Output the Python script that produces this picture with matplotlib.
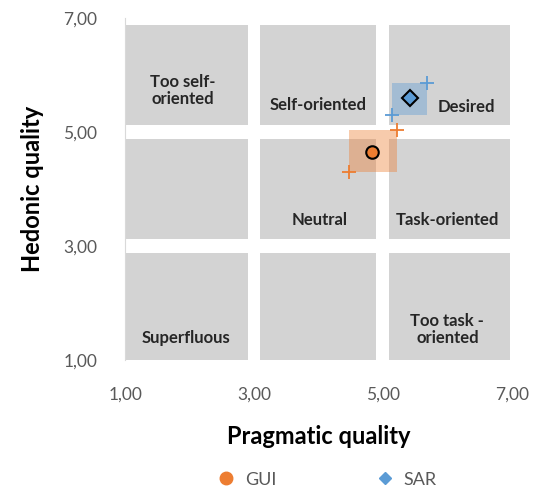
import matplotlib.pyplot as plt
from matplotlib.patches import Rectangle

# mean values and confidence bounds (pragmatic, hedonic)
GUI_MEAN = [4.83, 4.65]
GUI_LOW = [4.47, 4.30]
GUI_HIGH = [5.22, 5.04]
SAR_MEAN = [5.42, 5.60]
SAR_LOW = [5.14, 5.30]
SAR_HIGH = [5.68, 5.86]

REGION_LABELS = ["Too self-\noriented", "Self-oriented", "Desired",
                 "Neutral", "Task-oriented", "Superfluous", "Too task -\noriented"]
REGION_POS = [(1.9, 5.73), (4.0, 5.47), (6.3, 5.44), (4.02, 3.46),
              (6.0, 3.46), (1.95, 1.39), (6.0, 1.53)]

TICKS = [1, 3, 5, 7]
TICK_LABELS = ["1,00", "3,00", "5,00", "7,00"]

ORANGE = "#ED7D31"
BLUE = "#5B9BD5"

plt.rcParams["font.family"] = ["Lato", "DejaVu Sans"]

fig = plt.figure(figsize=(5.37, 4.93), dpi=100)
ax = fig.add_axes([0.233, 0.27, 0.72, 0.693])

# grey region tiles
edges = [(1.0, 2.9), (3.1, 4.9), (5.1, 6.97)]
yedges = [(1.0, 2.88), (3.12, 4.88), (5.12, 6.88)]
for x0, x1 in edges:
    for y0, y1 in yedges:
        ax.add_patch(Rectangle((x0, y0), x1 - x0, y1 - y0, color="#d3d3d3", lw=0, zorder=0))

for label, (x, y) in zip(REGION_LABELS, REGION_POS):
    ax.text(x, y, label, ha="center", va="center", fontsize=12,
            fontweight="bold", color="#262626", linespacing=1.1, zorder=1)

# confidence rectangles
for low, high, c in [(GUI_LOW, GUI_HIGH, ORANGE), (SAR_LOW, SAR_HIGH, BLUE)]:
    ax.add_patch(Rectangle((low[0], low[1]), high[0] - low[0], high[1] - low[1],
                           color=c, alpha=0.4, lw=0, zorder=2))
    ax.plot([low[0], high[0]], [low[1], high[1]], "+", color=c, ms=10, mew=1.3,
            ls="none", zorder=3)

ax.plot(GUI_MEAN[0], GUI_MEAN[1], "o", color=ORANGE, mec="black", mew=1.5, ms=9, zorder=4)
ax.plot(SAR_MEAN[0], SAR_MEAN[1], "D", color=BLUE, mec="black", mew=1.5, ms=8, zorder=4)

ax.set_xlim(1, 7)
ax.set_ylim(1, 7)
ax.set_xticks(TICKS)
ax.set_xticklabels(TICK_LABELS)
ax.set_yticks(TICKS)
ax.set_yticklabels(TICK_LABELS)
ax.tick_params(length=0, labelsize=12.5, colors="#595959")
ax.tick_params(axis="x", pad=19)
ax.tick_params(axis="y", pad=20)
for s in ["top", "right", "bottom"]:
    ax.spines[s].set_visible(False)
ax.spines["left"].set_color("#d9d9d9")

ax.set_xlabel("Pragmatic quality", fontsize=17, fontweight="bold", labelpad=16)
ax.set_ylabel("Hedonic quality", fontsize=17, fontweight="bold", labelpad=14)

# legend
h1, = ax.plot([], [], "o", color=ORANGE, ms=9, label="GUI")
h2, = ax.plot([], [], "D", color=BLUE, ms=6, label="SAR")
fig.legend(handles=[h1, h2], loc="center", bbox_to_anchor=(0.6, 0.027), ncol=2,
           frameon=False, fontsize=13, handletextpad=0.05, columnspacing=5,
           labelcolor="#595959")

fig.savefig("out.png", dpi=100)
